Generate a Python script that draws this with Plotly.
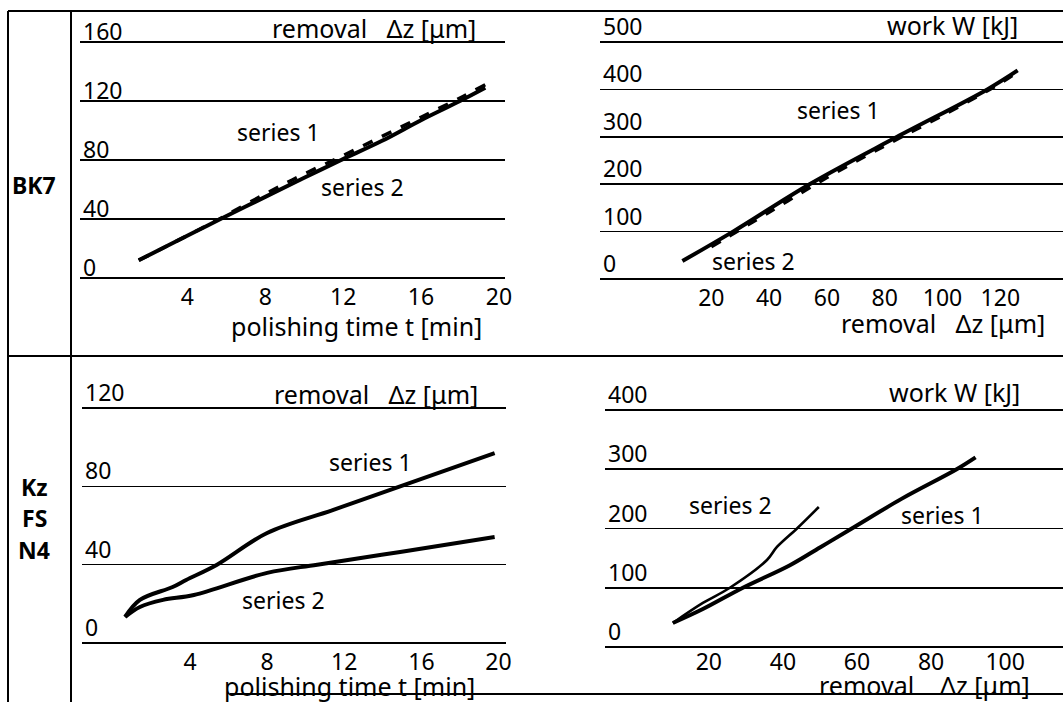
import plotly.graph_objects as go

W, H = 1063, 702

# ---------------- data ----------------
# BK7: removal vs polishing time
bk7_t_s1 = [1.5, 3.0, 5.5, 8.0, 10.0, 12.0, 14.0, 16.0, 18.0, 19.3]
bk7_z_s1 = [12, 22, 39, 57, 70.5, 83, 96, 109, 122, 131]
bk7_t_s2 = [1.5, 3.0, 4.5, 5.7, 8.0, 10.0, 11.9, 14.0, 16.0, 18.0, 19.3]
bk7_z_s2 = [12, 22, 32, 40, 55, 68, 80, 93, 107, 120, 129]

# BK7: work vs removal
bk7_dz_s1 = [10, 27.5, 54, 84.3, 115.5, 126]
bk7_w_s1 = [38, 100, 200, 300, 400, 440]
bk7_dz_s2 = [20, 40, 60, 80, 100, 120, 126]
bk7_w_s2 = [68, 141, 214, 281, 345, 413, 437]

# Kz FS N4: removal vs polishing time
kz_t_s1 = [0.63, 1.4, 3.1, 3.8, 5.4, 8.0, 11.4, 14.9, 19.8]
kz_z_s1 = [13.3, 22, 28.6, 32.2, 40, 56.2, 67.9, 80, 97]
kz_t_s2 = [0.63, 1.4, 2.6, 4.2, 8.0, 10.6, 14.9, 19.8]
kz_z_s2 = [13.3, 18.4, 22, 24.5, 35.8, 40, 46.5, 54.1]

# Kz FS N4: work vs removal
kz_dz_s1 = [10.3, 18.4, 29.2, 41.9, 50.0, 58.6, 72.0, 86.9, 92.0]
kz_w_s1 = [40.5, 64, 100, 138, 168, 200, 250, 300, 320]
kz_dz_s2 = [10.3, 18.4, 25.7, 35.7, 38.4, 43.8, 49.7]
kz_w_s2 = [40.5, 74.3, 100, 146.8, 168.8, 200, 236.3]

time_ticks = [4, 8, 12, 16, 20]
bk7_z_ticks = [0, 40, 80, 120, 160]
bk7_dz_ticks = [20, 40, 60, 80, 100, 120]
bk7_w_ticks = [0, 100, 200, 300, 400, 500]
kz_z_ticks = [0, 40, 80, 120]
kz_dz_ticks = [20, 40, 60, 80, 100]
kz_w_ticks = [0, 100, 200, 300, 400]

FONT = "Noto Sans"
TICK_FS = 23
TITLE_FS = 25
LABEL_FS = 23

fig = go.Figure()


def px(x):
    return x / W


def py(y):
    return 1 - y / H


def xaxis_cfg(x0_px, scale, left, right, ticks, standoff):
    return dict(
        domain=[px(left), px(right)],
        range=[(left - x0_px) / scale, (right - x0_px) / scale],
        tickvals=ticks, ticks="", showgrid=False, zeroline=False,
        showline=False, ticklabelstandoff=standoff, automargin=False,
        ticklabeloverflow="allow",
        tickfont=dict(family=FONT, size=TICK_FS, color="black"),
        fixedrange=True,
    )


def yaxis_cfg(zero_px, v1, v1_px, top, bot, ticks, shift):
    scale = (zero_px - v1_px) / v1
    return dict(
        domain=[py(bot), py(top)],
        range=[-(bot - zero_px) / scale, (zero_px - top) / scale],
        tickvals=ticks, ticks="", showgrid=True, gridcolor="black",
        gridwidth=1.6, zeroline=False, showline=False, automargin=False,
        ticklabelposition="inside", ticklabelshift=shift,
        ticklabelstandoff=0, ticklabeloverflow="allow",
        tickfont=dict(family=FONT, size=TICK_FS, color="black"),
        fixedrange=True,
    )


line = dict(color="black", width=4)
dash = dict(color="black", width=3.5, dash="dash")
thin = dict(color="black", width=2.6)

# panel 1 (top-left)
fig.add_trace(go.Scatter(x=bk7_t_s1, y=bk7_z_s1, mode="lines", line=dash,
                         line_shape="spline", xaxis="x", yaxis="y"))
fig.add_trace(go.Scatter(x=bk7_t_s2, y=bk7_z_s2, mode="lines", line=line,
                         line_shape="spline", xaxis="x", yaxis="y"))
# panel 2 (top-right)
fig.add_trace(go.Scatter(x=bk7_dz_s1, y=bk7_w_s1, mode="lines", line=line,
                         line_shape="spline", xaxis="x2", yaxis="y2"))
fig.add_trace(go.Scatter(x=bk7_dz_s2, y=bk7_w_s2, mode="lines", line=dash,
                         line_shape="spline", xaxis="x2", yaxis="y2"))
# panel 3 (bottom-left)
fig.add_trace(go.Scatter(x=kz_t_s1, y=kz_z_s1, mode="lines", line=line,
                         line_shape="spline", xaxis="x3", yaxis="y3"))
fig.add_trace(go.Scatter(x=kz_t_s2, y=kz_z_s2, mode="lines", line=line,
                         line_shape="spline", xaxis="x3", yaxis="y3"))
# panel 4 (bottom-right)
fig.add_trace(go.Scatter(x=kz_dz_s1, y=kz_w_s1, mode="lines", line=line,
                         line_shape="spline", xaxis="x4", yaxis="y4"))
fig.add_trace(go.Scatter(x=kz_dz_s2, y=kz_w_s2, mode="lines", line=thin,
                         line_shape="spline", xaxis="x4", yaxis="y4"))

layout = dict(
    width=W, height=H, margin=dict(l=0, r=0, t=0, b=0, autoexpand=False),
    paper_bgcolor="white", plot_bgcolor="rgba(0,0,0,0)",
    showlegend=False, hovermode=False,
    font=dict(family=FONT, size=TICK_FS, color="black"),
    xaxis=xaxis_cfg(109.5, 19.47, 80, 505, time_ticks, 0),
    yaxis=dict(yaxis_cfg(278, 160, 42, 39, 281, bk7_z_ticks, -10), anchor="x"),
    xaxis2=dict(xaxis_cfg(653.5, 2.89, 600, 1063, bk7_dz_ticks, 0), anchor="y2"),
    yaxis2=dict(yaxis_cfg(279, 500, 42, 39, 282, bk7_w_ticks, -15), anchor="x2"),
    xaxis3=dict(xaxis_cfg(112.9, 19.28, 82, 506, time_ticks, 0), anchor="y3"),
    yaxis3=dict(yaxis_cfg(643, 120, 408, 405, 646, kz_z_ticks, -15), anchor="x3"),
    xaxis4=dict(xaxis_cfg(634.7, 3.705, 605, 1063, kz_dz_ticks, -4), anchor="y4"),
    yaxis4=dict(yaxis_cfg(647, 400, 410, 407, 650, kz_w_ticks, -15), anchor="x4"),
)
fig.update_layout(**layout)

# frame lines
frame = [
    (8, 11, 1063, 11), (8, 11, 8, 702), (71, 11, 71, 702),
    (8, 356, 1063, 356), (230, 694, 1063, 694),
]
for x0, y0, x1, y1 in frame:
    fig.add_shape(type="line", xref="paper", yref="paper",
                  x0=px(x0), y0=py(y0), x1=px(x1), y1=py(y1),
                  line=dict(color="black", width=2))

NB = "\u00a0"
texts = [
    # (text, x, y, xanchor, size)
    ("removal" + NB * 2 + " Δz [μm]", 478, 28, "right", TITLE_FS),
    ("polishing time t [min]", 356, 326, "center", TITLE_FS),
    ("work W [kJ]", 1020, 25, "right", TITLE_FS),
    ("removal" + NB * 2 + " Δz [μm]", 1047, 323, "right", TITLE_FS),
    ("removal" + NB * 2 + " Δz [μm]", 480, 394, "right", TITLE_FS),
    ("polishing time t [min]", 349, 686, "center", TITLE_FS),
    ("work W [kJ]", 1022, 392, "right", TITLE_FS),
    ("removal" + NB * 3 + " Δz [μm]", 1032, 685, "right", TITLE_FS),
    ("series 1", 278, 132, "center", LABEL_FS),
    ("series 2", 362, 187, "center", LABEL_FS),
    ("series 1", 838, 110, "center", LABEL_FS),
    ("series 2", 753, 261, "center", LABEL_FS),
    ("series 1", 370, 462, "center", LABEL_FS),
    ("series 2", 283, 600, "center", LABEL_FS),
    ("series 2", 730, 505, "center", LABEL_FS),
    ("series 1", 942, 515, "center", LABEL_FS),
    ("<b>BK7</b>", 34, 185, "center", LABEL_FS),
    ("<b>Kz</b>", 34, 487, "center", LABEL_FS),
    ("<b>FS</b>", 34, 518, "center", LABEL_FS),
    ("<b>N4</b>", 34, 550, "center", LABEL_FS),
]
for t, x, y, xa, fs in texts:
    fig.add_annotation(text=t, xref="paper", yref="paper", x=px(x), y=py(y),
                       xanchor=xa, yanchor="middle", showarrow=False,
                       font=dict(family=FONT, size=fs, color="black"))

fig.write_html("out.html",
               config={"displayModeBar": False, "staticPlot": True},
               post_script="document.body.style.margin='0px';")
